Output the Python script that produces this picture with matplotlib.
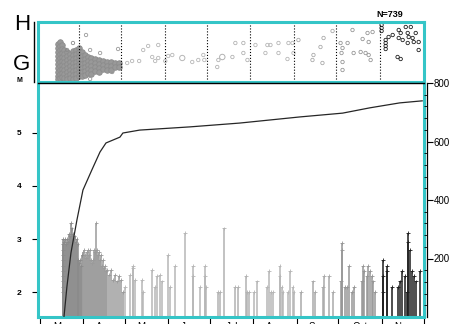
import numpy as np
import matplotlib
matplotlib.use("Agg")
import matplotlib.pyplot as plt

plt.rcParams['font.family'] = ['Liberation Sans', 'DejaVu Sans']

# days counted from 1 March
month_names = ['Mar', 'Apr', 'May', 'Jun', 'Jul', 'Aug', 'Sep', 'Oct', 'Nov']
month_starts = [0, 31, 61, 92, 122, 153, 184, 214, 245, 275]
month_gray = ['#8a8a8a', '#9a9a9a', '#b6b6b6', '#b6b6b6', '#b2b2b2',
              '#b6b6b6', '#a9a9a9', '#969696', '#1e1e1e']

# events: day, magnitude (stem plot)
ev_day = [16.7, 16.7, 16.7, 16.7, 16.7, 16.7, 16.7, 16.7, 16.7, 16.7, 16.7,
          17.4, 18.1, 18.8, 19.5, 20.2, 20.9, 21.6, 22.3, 22.9, 23.6, 24.3,
          25.0, 25.7, 26.4, 27.1, 27.8, 28.5, 29.2, 29.9, 30.6, 31.3, 32.0,
          32.7, 33.4, 34.1, 34.8, 35.5, 36.2, 36.9, 37.6, 38.3, 39.0, 39.7,
          40.6, 41.1, 41.8, 42.5, 43.2, 43.9, 44.6, 45.3, 46.0, 46.7, 47.4,
          48.2, 49.6, 51.0, 52.5, 53.9, 55.3, 56.8, 58.2, 59.6, 61.1, 64.6,
          66.8, 66.8, 68.2, 73.2, 73.9, 80.4, 82.5, 83.9, 86.1, 87.5, 91.8,
          93.3, 96.9, 104.0, 109.7, 109.7, 114.8, 118.3, 118.3, 119.1, 127.6,
          129.1, 131.9, 139.8, 141.9, 147.7, 148.4, 149.8, 153.4, 155.6,
          162.7, 164.1, 165.6, 167.0, 171.8, 171.8, 173.3, 174.0, 177.6,
          179.1, 181.2, 181.9, 187.1, 195.6, 197.1, 202.8, 203.5, 207.1,
          210.0, 215.7, 216.4, 216.4, 218.5, 220.0, 221.4, 223.6, 225.0,
          230.7, 231.4, 232.2, 234.3, 235.0, 236.5, 237.9, 238.6, 240.0,
          245.8, 245.8, 245.8, 248.6, 248.6, 252.2, 256.5, 257.9, 259.3,
          261.5, 263.0, 263.7, 263.7, 265.1, 266.6, 268.0, 269.5, 272.3]
ev_mag = [3.0, 2.9, 2.8, 2.7, 2.6, 2.5, 2.4, 2.3, 2.2, 2.1, 2.0,
          2.95, 3.0, 2.9, 3.0, 2.95, 3.1, 3.05, 3.3, 3.2, 3.1, 3.0,
          3.05, 2.95, 3.0, 2.9, 2.6, 2.55, 2.6, 2.5, 2.7, 2.75, 2.8,
          2.7, 2.65, 2.75, 2.8, 2.7, 2.8, 2.6, 2.55, 2.6, 2.8, 2.75,
          3.3, 2.8, 2.7, 2.75, 2.6, 2.7, 2.5, 2.6, 2.45, 2.5, 2.4,
          2.42, 2.33, 2.42, 2.23, 2.33, 2.2, 2.3, 2.23, 2.0, 2.1, 2.33,
          2.5, 2.45, 2.23, 2.23, 2.0, 2.42, 2.1, 2.3, 2.33, 2.2, 2.7,
          2.1, 2.5, 3.11, 2.5, 2.3, 2.1, 2.5, 2.3, 2.1, 2.0,
          2.0, 3.2, 2.1, 2.1, 2.3, 2.0, 2.0, 2.0, 2.2,
          2.1, 2.4, 2.0, 2.0, 2.5, 2.3, 2.1, 2.0, 2.0,
          2.4, 2.1, 2.0, 2.0, 2.2, 2.0, 2.1, 2.3, 2.3,
          2.0, 2.2, 2.93, 2.8, 2.1, 2.1, 2.5, 2.0, 2.1,
          2.2, 2.5, 2.4, 2.3, 2.5, 2.4, 2.3, 2.2, 2.0,
          2.6, 2.3, 2.0, 2.5, 2.4, 2.1, 2.1, 2.2, 2.4,
          2.3, 2.0, 3.11, 2.95, 2.8, 2.4, 2.3, 2.2, 2.4]

# cumulative number of events
cum_day = [17.4, 19.5, 22.4, 26.7, 31.0, 37.4, 43.2, 47.5, 57.5, 59.6,
           71.6, 107.7, 143.2, 186.4, 217.0, 236.4, 257.9, 274.0]
cum_n = [0, 103, 219, 332, 434, 503, 564, 595, 615, 629,
         639, 650, 663, 684, 697, 715, 732, 739]

# upper panel: location of events (arbitrary units)
blob_day = [16.0] * 10 + [17.5] * 10 + [18.9] * 9 + [20.3] * 8 + [22.5] * 8 + \
           [24.6] * 7 + [26.7] * 8 + [28.9] * 8 + [31.0] * 8 + [33.2] * 7 + \
           [35.3] * 6 + [37.4] * 5 + [39.6] * 5 + [42.4] * 4 + [45.3] * 4 + \
           [48.1] * 3 + [51.0] * 3 + [53.9] * 3 + [56.7] * 2 + [59.6] * 2
blob_val = [38, 34, 30, 26, 22, 18, 14, 10, 6, 3,
            40, 36, 32, 28, 24, 20, 16, 12, 8, 4,
            37, 33, 29, 25, 21, 17, 13, 9, 5,
            32, 28, 24, 20, 16, 12, 8, 4,
            30, 26, 22, 18, 14, 10, 6, 3,
            28, 24, 20, 16, 12, 8, 4,
            31, 27, 23, 19, 15, 11, 7, 3,
            32, 28, 24, 20, 16, 12, 8, 4,
            34, 30, 26, 22, 18, 14, 10, 6,
            30, 26, 22, 18, 14, 10, 6,
            27, 23, 19, 15, 11, 7,
            25, 21, 17, 13, 9,
            24, 20, 16, 12, 8,
            23, 19, 15, 11,
            22, 18, 14, 10,
            21, 17, 13,
            20, 16, 12,
            20, 16, 12,
            19, 15,
            19, 15]
loc_day = [36.0, 26.7, 22.5, 38.9, 46.0, 58.8, 54.6, 38.9, 65.3, 68.8, 73.8,
           76.7, 80.2, 87.4, 83.1, 85.2, 87.4, 92.4, 94.5, 97.4, 111.6, 115.9,
           119.5, 120.2, 129.4, 130.2, 140.2, 142.3, 148.0, 148.0, 150.9,
           156.6, 165.1, 163.7, 167.3, 173.0, 173.0, 180.1, 179.4, 183.0,
           183.7, 187.2, 197.9, 197.2, 204.3, 202.9, 205.1, 211.5, 217.2,
           218.6, 217.9, 218.6, 218.6, 222.2, 225.7, 226.5, 232.9, 231.5,
           236.4, 240.0, 237.2, 235.0, 238.6, 237.2,
           246.4, 246.4, 246.4, 249.3, 249.3, 249.3, 249.3, 254.3, 258.6,
           260.0, 263.6, 267.2, 261.4, 258.6, 265.0, 265.7, 268.5, 269.3,
           265.0, 272.8, 272.8, 257.8, 260.0, 251.4, 270.7]
loc_val = [47, 39, 32, 32, 29, 33, 10, 3, 19, 21, 21,
           32, 36, 37, 25, 21, 24, 21, 26, 27, 20, 22,
           27, 22, 15, 22, 25, 39, 39, 29, 22,
           37, 37, 29, 37, 39, 29, 39, 23, 39,
           29, 42, 27, 22, 19, 35, 44, 51, 39,
           34, 29, 20, 12, 39, 52, 29, 43, 30,
           49, 50, 40, 29, 22, 27,
           57, 54, 51, 42, 39, 36, 33, 47, 52,
           49, 55, 55, 42, 44, 49, 45, 44, 40,
           39, 40, 32, 25, 23, 45, 49]
big_day = [104.5, 133.0]
big_val = [24, 25]
big_mag = [3.11, 3.2]

cyan = '#35c5c7'


def shade(days):
    idx = np.clip(np.searchsorted(month_starts, days, side='right') - 1, 0, 8)
    return [month_gray[i] for i in idx]


fig = plt.figure(figsize=(4.55, 3.24), dpi=100)
W, H = 455.0, 324.0
ax_top = fig.add_axes([38 / W, 1 - 82 / H, 386 / W, 60 / H])
ax = fig.add_axes([38 / W, 1 - 317 / H, 386 / W, 234 / H])

# --- upper panel
ax_top.set_xlim(1.8, 276.6)
ax_top.set_ylim(0, 60)
ax_top.scatter(blob_day, blob_val, s=16, facecolors='#999999',
               edgecolors='#8c8c8c', linewidths=0.6)
ax_top.scatter(loc_day, loc_val, s=6, facecolors='none',
               edgecolors=shade(loc_day), linewidths=0.6)
ax_top.scatter(big_day, big_val, s=[(m - 1.5) * 9 for m in big_mag],
               facecolors='none', edgecolors=shade(big_day), linewidths=0.7)
for d in month_starts[1:-1]:
    ax_top.axvline(d, color='k', ls=':', lw=0.8)
ax_top.set_xticks([])
ax_top.set_yticks([])
for s in ax_top.spines.values():
    s.set_color(cyan)
    s.set_linewidth(2.2)
ax_top.plot([-0.01, -0.01], [0, 1], color='k', lw=1, transform=ax_top.transAxes,
            clip_on=False)
ax_top.text(0.91, 1.12, 'N=739', transform=ax_top.transAxes, ha='center',
            va='center', fontsize=6.5, fontweight='bold')

# --- magnitude stems
cols = shade(ev_day)
ax.vlines(ev_day, 1.4, ev_mag, colors=cols, lw=1.1)
ax.scatter(ev_day, ev_mag, marker='+', s=7, c=cols, linewidths=0.6, zorder=3)
ax.set_xlim(-1.2, 275.3)
ax.set_ylim(1.53, 5.94)
ax.set_yticks([2, 3, 4, 5])
ax.set_yticklabels(['2', '3', '4', '5'], fontsize=6, fontweight='bold')
ax.tick_params(axis='y', direction='out', length=4, width=0.8, pad=8)
ax.set_xticks(month_starts)
ax.set_xticklabels([])
ax.set_xticks([(month_starts[i] + month_starts[i + 1]) / 2 for i in range(9)],
              minor=True)
ax.set_xticklabels(month_names, minor=True, fontsize=7)
ax.tick_params(axis='x', which='major', direction='out', length=5, width=0.8)
ax.tick_params(axis='x', which='minor', length=0, pad=3.5)
for s in ['left', 'bottom', 'right']:
    ax.spines[s].set_color(cyan)
    ax.spines[s].set_linewidth(2.2)
ax.spines['top'].set_color('k')
ax.spines['top'].set_linewidth(1.0)

# --- cumulative number
ax2 = ax.twinx()
ax2.plot(cum_day, cum_n, color='#262626', lw=0.9)
ax2.set_ylim(0, 800)
ax2.set_yticks([200, 400, 600, 800])
ax2.set_yticks(range(40, 800, 40), minor=True)
ax2.tick_params(axis='y', which='major', direction='out', length=4, width=0.8,
                labelsize=7, pad=1)
ax2.tick_params(axis='y', which='minor', direction='in', length=2, width=0.6)
ax2.spines['right'].set_position(('outward', 2))
ax2.spines['right'].set_color('k')
ax2.spines['right'].set_linewidth(0.9)
for s in ['left', 'top', 'bottom']:
    ax2.spines[s].set_visible(False)

fig.text(22 / W, 1 - 25 / H, 'H', fontsize=16, ha='center', va='center')
fig.text(22 / W, 1 - 65 / H, 'G', fontsize=16, ha='center', va='center')
fig.text(19 / W, 1 - 80 / H, 'M', fontsize=5, fontweight='bold',
         ha='center', va='center')

fig.savefig('out.png', dpi=100)
